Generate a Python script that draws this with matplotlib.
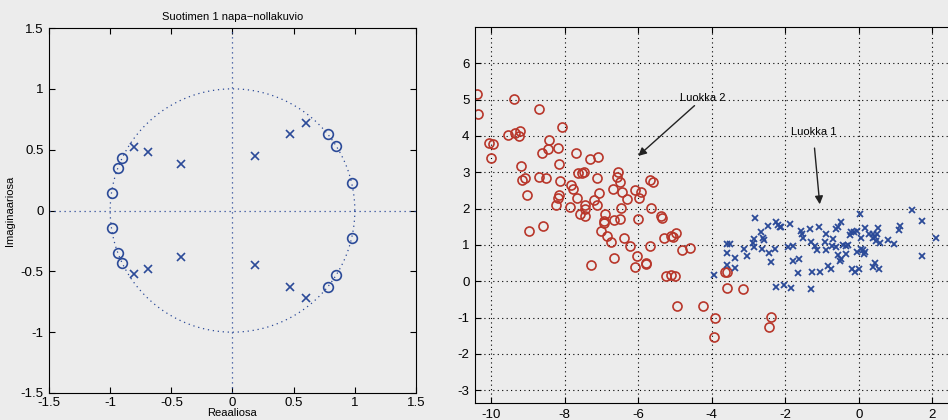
import numpy as np
import matplotlib
matplotlib.use("Agg")
import matplotlib.pyplot as plt
from matplotlib.ticker import FuncFormatter

# fuente y estilo general
plt.rcParams['font.family'] = ['Liberation Sans', 'DejaVu Sans']
plt.rcParams['font.size'] = 8
plt.rcParams['axes.unicode_minus'] = False

# datos: nollat ja navat (ylapuolisko, alapuolisko on konjugaatti)
zeros_re = [0.78, 0.85, 0.975, -0.90, -0.935, -0.985]
zeros_im = [0.63, 0.53, 0.225, 0.43, 0.35, 0.145]
poles_re = [0.60, 0.47, 0.185, -0.425, -0.687, -0.804]
poles_im = [0.723, 0.63, 0.444, 0.384, 0.482, 0.526]

# luokka 2 (punaiset ympyrat)
red_x = [-10.40, -10.35, -9.38, -8.71, -8.08, -10.06, -9.94, -10.01, -9.54, -9.36,
         -9.21, -9.24, -8.43, -8.46, -8.17, -8.63, -7.69, -7.32, -7.10, -9.19,
         -8.16, -9.16, -9.07, -8.71, -8.51, -8.14, -7.63, -7.52, -7.48, -7.12,
         -6.55, -6.59, -6.49, -9.02, -8.15, -8.18, -8.24, -7.84, -7.78, -7.67,
         -7.85, -7.46, -7.46, -7.58, -7.44, -7.20, -7.06, -7.11, -6.68, -6.43,
         -6.31, -6.48, -6.08, -5.93, -5.99, -5.68, -5.60, -5.66, -6.91, -6.92,
         -6.92, -7.01, -6.84, -6.73, -6.67, -6.49, -6.00, -5.39, -5.36, -6.39,
         -6.23, -5.68, -5.31, -5.11, -5.04, -4.98, -4.80, -4.60, -8.96, -8.58,
         -7.28, -6.67, -6.04, -6.08, -5.78, -5.78, -5.24, -5.10, -4.99, -4.95,
         -4.25, -3.92, -3.94, -3.64, -3.59, -3.58, -3.16, -2.38, -2.44]
red_y = [5.15, 4.60, 5.02, 4.74, 4.26, 3.82, 3.79, 3.40, 4.02, 4.07,
         4.13, 4.00, 3.89, 3.65, 3.67, 3.53, 3.52, 3.37, 3.42, 3.18,
         3.24, 2.78, 2.84, 2.87, 2.84, 2.76, 2.98, 2.99, 3.00, 2.85,
         3.01, 2.86, 2.73, 2.38, 2.37, 2.29, 2.11, 2.64, 2.53, 2.28,
         2.05, 2.09, 2.00, 1.86, 1.80, 2.23, 2.43, 2.10, 2.55, 2.46,
         2.26, 2.02, 2.51, 2.46, 2.30, 2.78, 2.74, 2.02, 1.84, 1.67,
         1.60, 1.39, 1.24, 1.09, 1.70, 1.71, 1.72, 1.79, 1.73, 1.20,
         0.98, 0.97, 1.19, 1.25, 1.22, 1.33, 0.85, 0.92, 1.39, 1.53,
         0.46, 0.64, 0.71, 0.40, 0.51, 0.47, 0.14, 0.18, 0.14, -0.69,
         -0.69, -1.01, -1.52, 0.26, 0.25, -0.19, -0.22, -0.98, -1.27]

# luokka 1 (siniset ristit)
blue_x = [-3.94, -3.58, -3.51, -3.58, -3.58, -3.36, -3.36, -3.12, -3.04, -2.81,
          -2.86, -2.87, -2.86, -2.65, -2.61, -2.58, -2.62, -2.47, -2.43, -2.39,
          -2.27, -2.24, -2.20, -2.15, -2.12, -2.26, -2.02, -1.83, -1.93, -1.78,
          -1.86, -1.80, -1.63, -1.65, -1.57, -1.55, -1.52, -1.32, -1.09, -1.27,
          -1.04, -1.29, -1.31, -1.19, -1.14, -0.90, -0.69, -0.93, -0.90, -0.84,
          -0.76, -0.72, -0.61, 0.04, 1.44, 1.71, 2.10, 1.71, 1.12, 1.10,
          -0.47, -0.56, -0.61, -0.20, -0.25, -0.14, -0.06, 0.16, 0.53, 0.27,
          0.39, 0.44, 0.51, 0.39, 0.48, 0.05, 0.80, 0.96, 0.57, -0.43,
          -0.34, -0.29, -0.56, -0.47, -0.52, -0.34, -0.06, 0.07, 0.12, 0.16,
          0.15, 0.44, 0.39, 0.55, -0.18, -0.11, 0.01]
blue_y = [0.17, 1.04, 1.04, 0.79, 0.46, 0.63, 0.36, 0.88, 0.71, 1.74,
          1.17, 1.06, 0.95, 1.36, 1.20, 1.15, 0.90, 1.52, 0.79, 0.52,
          0.90, 1.62, 1.55, 1.50, 1.50, -0.16, -0.11, -0.18, 0.95, 0.97,
          1.58, 0.55, 0.60, 0.23, 1.39, 1.29, 1.18, 1.44, 1.50, 0.25,
          0.25, -0.20, 1.07, 0.98, 0.85, 1.29, 1.16, 1.07, 0.85, 0.42,
          0.35, 0.97, 0.95, 1.86, 1.96, 1.65, 1.18, 0.70, 1.52, 1.42,
          1.62, 1.50, 1.45, 1.36, 1.27, 1.36, 1.39, 1.47, 1.47, 1.31,
          1.29, 1.22, 1.29, 1.18, 1.11, 1.18, 1.15, 1.03, 1.06, 1.01,
          0.97, 0.99, 0.72, 0.62, 0.56, 0.76, 0.81, 0.90, 0.85, 0.81,
          0.74, 0.51, 0.39, 0.33, 0.35, 0.26, 0.35]

# colores
bg = '#ececec'
blue = '#2b4a98'
red = '#b8362a'
dots = (0, (1, 3))

fig = plt.figure(figsize=(9.48, 4.2), dpi=100, facecolor=bg)

# ---- napa-nollakuvio ----
ax1 = fig.add_axes([0.0517, 0.0643, 0.3871, 0.869], facecolor=bg)
t = np.linspace(0, 2 * np.pi, 400)
ax1.plot(np.cos(t), np.sin(t), color=blue, linestyle=dots, linewidth=0.9)
ax1.plot([-1.5, 1.5], [0, 0], color=blue, linestyle=dots, linewidth=0.9)
ax1.plot([0, 0], [-1.5, 1.5], color=blue, linestyle=dots, linewidth=0.9)
zr = np.array(zeros_re)
zi = np.array(zeros_im)
pr = np.array(poles_re)
pi = np.array(poles_im)
ax1.plot(np.concatenate([zr, zr]), np.concatenate([zi, -zi]), 'o', color=blue,
         markerfacecolor='none', markersize=7, markeredgewidth=1.2)
ax1.plot(np.concatenate([pr, pr]), np.concatenate([pi, -pi]), 'x', color=blue,
         markersize=6, markeredgewidth=1.2)
ax1.set_xlim(-1.5, 1.5)
ax1.set_ylim(-1.5, 1.5)
ticks = [-1.5, -1, -0.5, 0, 0.5, 1, 1.5]
ax1.set_xticks(ticks)
ax1.set_yticks(ticks)
fmt = FuncFormatter(lambda v, p: '%g' % v)
ax1.xaxis.set_major_formatter(fmt)
ax1.yaxis.set_major_formatter(fmt)
ax1.tick_params(direction='in', top=True, right=True, length=4, labelsize=9.5)
ax1.tick_params(axis='x', pad=3)
ax1.tick_params(axis='y', pad=4)
ax1.set_title('Suotimen 1 napa\u2212nollakuvio', fontsize=8, pad=6)
ax1.set_xlabel('Reaaliosa', fontsize=8, labelpad=-1)
ax1.set_ylabel('Imaginaariosa', fontsize=8, labelpad=4)

# ---- luokat ----
ax2 = fig.add_axes([0.5011, 0.0405, 0.5055, 0.8952], facecolor=bg)
ax2.plot(red_x, red_y, 'o', color=red, markerfacecolor='none', markersize=6.5,
         markeredgewidth=1.2)
ax2.plot(blue_x, blue_y, 'x', color=blue, markersize=4.5, markeredgewidth=1.3)
ax2.set_xlim(-10.44, 2.6)
ax2.set_ylim(-3.35, 7)
ax2.set_xticks(range(-10, 3, 2))
ax2.set_yticks(range(-3, 7))
ax2.grid(True, color='black', linestyle=dots, linewidth=0.8)
ax2.tick_params(direction='in', top=True, right=True, length=4, labelsize=9.5, pad=4)
ax2.annotate('Luokka 2', xy=(-6.0, 3.45), xytext=(-4.85, 5.05), fontsize=8,
             ha='left', va='center',
             arrowprops=dict(arrowstyle='-|>', color='#222222', lw=1.0,
                             mutation_scale=12, shrinkA=0, shrinkB=0))
ax2.annotate('Luokka 1', xy=(-1.06, 2.12), xytext=(-1.85, 4.11), fontsize=8,
             ha='left', va='center',
             arrowprops=dict(arrowstyle='-|>', color='#222222', lw=1.0,
                             mutation_scale=12, shrinkA=6, shrinkB=0,
                             relpos=(0.5, 0)))

fig.savefig('out.png', dpi=100, facecolor=bg)
